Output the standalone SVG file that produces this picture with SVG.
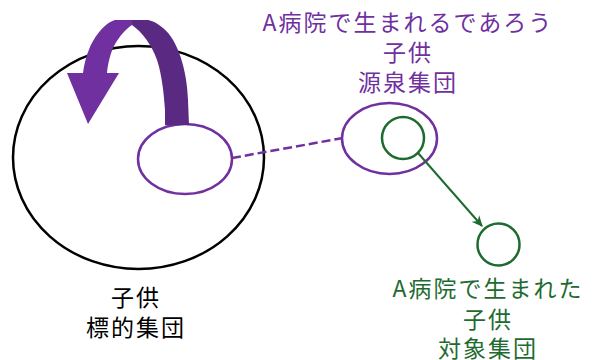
<svg xmlns="http://www.w3.org/2000/svg" width="597" height="360" viewBox="0 0 597 360">
<defs>
<style>
.lbl{font-family:"Noto Sans CJK JP","Noto Sans",sans-serif;font-size:23px;letter-spacing:2px;text-anchor:middle}
.pur{fill:#7030A0}
.grn{fill:#1E6B30}
.blk{fill:#000}
.ring{fill:none;stroke-width:2.5}
</style>
<marker id="ah" viewBox="0 0 10 10" refX="9" refY="5" markerWidth="11" markerHeight="11" orient="auto" markerUnits="userSpaceOnUse">
<path d="M0,0.5 L10,5 L0,9.5 L3,5 Z" fill="#1E6B30"/>
</marker>
</defs>
<rect width="597" height="360" fill="#fff"/>
<g id="target">
<ellipse class="ring" cx="138.5" cy="157.5" rx="125.5" ry="111.5" stroke="#000"/>
<text class="lbl blk" x="136" y="306">子供</text>
<text class="lbl blk" x="136" y="336">標的集団</text>
</g>
<g id="inner-source">
<ellipse class="ring" cx="185" cy="159" rx="47" ry="35" stroke="#7030A0"/>
</g>
<g id="loop-arrow">
<path d="M165,125 L189,125 L188,100 C187,70 178,40 163,28 C156,22 150,20 147,20 L132,20 L132,25 C142,32 152,45 157,60 C162,75 164,95 165,110 Z" fill="#5A2A82"/>
<path d="M132,25 L132,20 L115,20 C104,23 94,38 90,47 C86,56 84,65 83,73 L67,73 L88,124 L119,73 L107,73 C108,62 111,52 114,46 C120,35 126,29 132,25 Z" fill="#7030A0"/>
</g>
<g id="source">
<ellipse class="ring" cx="389.5" cy="138.5" rx="47.5" ry="35.5" stroke="#7030A0"/>
<text class="lbl pur" x="408" y="31">A病院で生まれるであろう</text>
<text class="lbl pur" x="408" y="61">子供</text>
<text class="lbl pur" x="408" y="91">源泉集団</text>
</g>
<g id="source-inner">
<circle class="ring" cx="403" cy="138" r="21" stroke="#1E6B30"/>
</g>
<g id="target-group">
<circle class="ring" cx="498.5" cy="244.5" r="21" stroke="#1E6B30"/>
<text class="lbl grn" x="488" y="297">A病院で生まれた</text>
<text class="lbl grn" x="488" y="328">子供</text>
<text class="lbl grn" x="488" y="357">対象集団</text>
</g>
<g id="connectors">
<line x1="232" y1="158" x2="343" y2="138" stroke="#7030A0" stroke-width="2.5" stroke-dasharray="9,4"/>
<line x1="418" y1="153" x2="482" y2="226" stroke="#1E6B30" stroke-width="2" marker-end="url(#ah)"/>
</g>
</svg>
